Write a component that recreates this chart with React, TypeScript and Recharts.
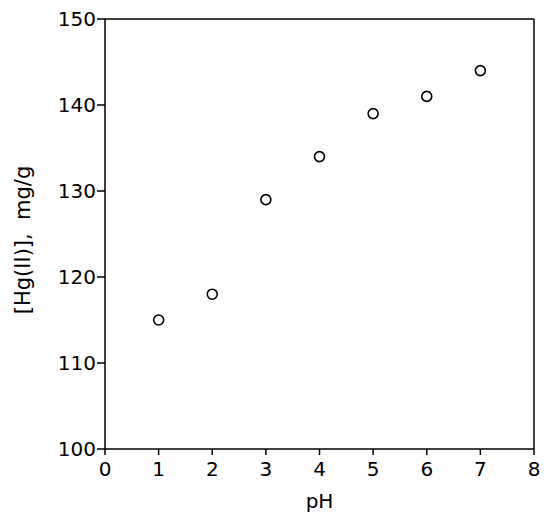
import React from 'react';
import { ScatterChart, Scatter, XAxis, YAxis, Label, ReferenceLine } from 'recharts';

const phValues = [1, 2, 3, 4, 5, 6, 7];
const hgUptake = [115, 118, 129, 134, 139, 141, 144];
const xTicks = [0, 1, 2, 3, 4, 5, 6, 7, 8];
const yTicks = [100, 110, 120, 130, 140, 150];

const data = phValues.map((ph, i) => ({ ph, hg: hgUptake[i] }));

const FONT = '"DejaVu Sans", Verdana, sans-serif';

const Circle = (props: any) => {
  const { cx, cy } = props;
  if (cx == null || cy == null) return null;
  return <circle cx={cx} cy={cy} r={5} fill="#fff" stroke="#000" strokeWidth={1.6} />;
};

export default function App() {
  const tickStyle = { fill: '#000', fontSize: 20, fontFamily: FONT };
  return (
    <div style={{ position: 'absolute', left: 0, top: 0, background: '#fff' }}>
      <ScatterChart width={550} height={525} margin={{ top: 19, right: 16, bottom: 0, left: 0 }}>
        <XAxis
          xAxisId="b"
          type="number"
          dataKey="ph"
          domain={[0, 8]}
          ticks={xTicks}
          interval={0}
          height={76}
          tickSize={6}
          stroke="#000"
          strokeWidth={1.5}
          tick={tickStyle}
          tickMargin={7}
        >
          <Label value="pH" position="insideTop" offset={45} style={{ fill: '#000', fontSize: 20, fontFamily: FONT }} />
        </XAxis>
        <YAxis
          yAxisId="l"
          type="number"
          dataKey="hg"
          domain={[100, 150]}
          ticks={yTicks}
          interval={0}
          width={105}
          tickSize={8}
          stroke="#000"
          strokeWidth={1.5}
          tick={tickStyle}
          tickMargin={1}
        >
          <Label
            value={'[Hg(II)],\u00a0\u00a0mg/g'}
            angle={-90}
            position="center"
            dx={-30}
            dy={6}
            style={{ fill: '#000', fontSize: 21, fontFamily: FONT, textAnchor: 'middle' }}
          />
        </YAxis>
        <ReferenceLine xAxisId="b" yAxisId="l" y={150} stroke="#000" strokeWidth={1.5} />
        <ReferenceLine xAxisId="b" yAxisId="l" x={8} stroke="#000" strokeWidth={1.5} />
        <Scatter data={data} xAxisId="b" yAxisId="l" shape={<Circle />} isAnimationActive={false} />
      </ScatterChart>
    </div>
  );
}
